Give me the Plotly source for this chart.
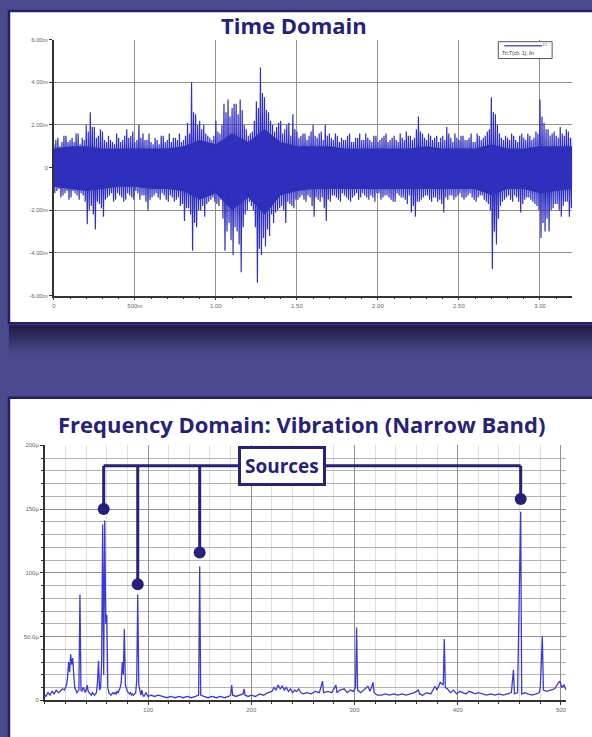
import numpy as np
import plotly.graph_objects as go

# ---------------- data: time domain (envelope peaks) -------------
dt = 0.025  # s between successive readings of each series
upper_peaks = [1.1, 1.4, 1.2, 1.5, 1.3, 1.2, 1.6, 1.4, 2.0, 2.6, 1.9, 1.5, 1.7, 1.2, 1.3, 1.1,
               1.4, 1.3, 1.8, 1.5, 1.2, 2.0, 1.6, 1.3, 1.2, 1.4, 1.1, 1.5, 1.3, 1.2, 1.4, 1.6,
               1.3, 2.1, 4.0, 2.5, 2.2, 2.0, 1.5, 1.3, 2.2, 1.6, 3.0, 3.2, 2.8, 3.0, 3.2, 2.0,
               1.5, 1.7, 3.1, 4.7, 3.3, 2.6, 2.0, 1.9, 2.2, 1.8, 2.1, 2.5, 1.7, 1.5, 1.6, 1.5,
               2.0, 1.4, 1.7, 2.0, 1.6, 1.3, 1.5, 1.4, 1.3, 1.6, 1.2, 1.4, 1.3, 1.6, 1.3, 1.5,
               1.2, 1.4, 1.6, 1.3, 1.5, 1.2, 1.4, 1.7, 1.5, 1.4, 2.4, 1.6, 1.3, 1.5, 1.4, 1.2,
               1.5, 1.9, 1.4, 1.6, 1.3, 1.5, 1.3, 1.6, 1.2, 1.5, 1.4, 1.7, 3.3, 2.5, 1.6, 1.3,
               1.4, 1.6, 1.3, 1.5, 1.4, 1.6, 1.3, 1.7, 3.2, 2.1, 1.8, 1.6, 1.5, 1.9, 1.5, 1.7, 1.4]
lower_peaks = [-1.2, -1.0, -1.3, -1.1, -1.4, -1.2, -1.5, -1.3, -2.65, -1.8, -2.9, -1.7, -2.3, -1.4,
               -1.2, -1.5, -1.3, -1.6, -1.2, -1.4, -1.1, -1.5, -1.3, -2.0, -1.4, -1.2, -1.5, -1.3,
               -1.6, -1.4, -1.5, -1.8, -2.5, -1.9, -3.9, -2.8, -2.0, -2.3, -1.6, -1.4, -1.7, -1.5,
               -3.9, -2.6, -4.1, -3.0, -4.9, -2.2, -1.6, -2.0, -5.4, -4.1, -3.7, -3.2, -2.6, -2.0,
               -1.8, -2.6, -1.7, -1.9, -1.5, -1.3, -1.6, -1.4, -2.3, -1.5, -1.4, -2.5, -1.6, -1.3,
               -1.5, -1.2, -1.4, -1.6, -1.3, -1.5, -1.2, -1.4, -1.3, -1.6, -1.2, -1.4, -1.3, -1.5,
               -1.6, -1.3, -1.4, -1.7, -2.1, -2.3, -1.6, -1.4, -1.3, -1.6, -1.4, -1.5, -2.1, -1.5,
               -1.3, -1.4, -1.2, -1.5, -1.3, -1.4, -1.6, -1.3, -1.5, -1.7, -4.75, -3.6, -1.8, -1.5,
               -1.3, -1.6, -1.4, -2.1, -1.5, -1.4, -1.6, -1.8, -3.3, -3.0, -3.0, -1.9, -1.7, -2.3,
               -1.6, -2.3, -1.5]
# second set of readings taken half-way between the first ones
upper_peaks_b = [1.3, 1.0, 1.5, 1.2, 1.4, 1.6, 1.1, 1.3,
                 1.7, 1.9, 1.4, 1.8, 1.3,
                 1.5, 1.2, 1.6, 1.2, 1.5, 1.4, 1.7, 1.3,
                 1.4, 1.3, 1.6, 1.1, 1.3, 1.5, 1.2, 1.6, 1.4, 1.3, 1.2, 1.5,
                 1.6, 2.6, 2.0, 1.8, 1.6, 1.4, 1.5, 1.7,
                 2.0, 2.6, 2.4, 3.0, 2.5, 2.7, 1.8,
                 1.6, 2.2, 2.8, 3.5, 2.7, 2.2,
                 1.7, 2.1, 1.6, 2.0, 1.5, 1.8, 1.4,
                 1.6, 1.3, 1.7, 1.5, 1.6, 1.3, 1.5, 1.4, 1.6, 1.2,
                 1.3, 1.5, 1.2, 1.4, 1.6, 1.3, 1.4, 1.2, 1.5, 1.3,
                 1.5, 1.2, 1.4, 1.3, 1.6, 1.3, 1.5, 1.3, 1.8, 1.7,
                 1.4, 1.6, 1.3, 1.5, 1.4, 1.3, 1.6, 1.2, 1.4, 1.5,
                 1.3, 1.4, 1.2, 1.6, 1.3, 1.5, 1.8, 2.6, 2.0, 1.4,
                 1.5, 1.3, 1.5, 1.2, 1.6, 1.3, 1.5, 1.4, 1.6, 2.4,
                 1.8, 1.5, 1.7, 1.4, 1.6, 1.8, 1.4, 1.5]
lower_peaks_b = [-1.1, -1.4, -1.2, -1.5, -1.1, -1.3, -1.2, -1.6,
                 -2.0, -2.2, -1.6, -1.9, -1.5,
                 -1.3, -1.6, -1.2, -1.4, -1.5, -1.3, -1.5, -1.2,
                 -1.3, -1.6, -1.5, -1.3, -1.4, -1.2, -1.5, -1.3, -1.6, -1.4, -1.7, -1.9,
                 -2.2, -2.6, -2.0, -1.8, -1.7, -1.5, -1.6, -1.8,
                 -2.4, -3.0, -3.4, -2.8, -3.6, -2.8, -2.0,
                 -1.8, -2.8, -3.8, -3.3, -2.9, -2.2,
                 -2.1, -1.9, -2.0, -1.6, -1.8, -1.5, -1.4,
                 -1.5, -1.3, -1.8, -1.4, -1.6, -1.9, -1.5, -1.3, -1.4, -1.6,
                 -1.3, -1.5, -1.4, -1.2, -1.4, -1.3, -1.5, -1.4, -1.2, -1.5,
                 -1.3, -1.4, -1.6, -1.2, -1.4, -1.5, -1.3, -1.8, -1.6, -1.5,
                 -1.3, -1.5, -1.4, -1.6, -1.7, -1.4, -1.3, -1.5, -1.3, -1.4,
                 -1.4, -1.2, -1.5, -1.4, -1.3, -1.6, -2.0, -3.0, -2.4, -1.6,
                 -1.4, -1.5, -1.3, -1.6, -1.7, -1.4, -1.5, -1.7, -2.0, -2.6,
                 -2.4, -2.0, -1.7, -2.0, -1.8, -1.6, -1.9, -1.4]
# dense dark core band (every 0.1 s)
core_dt = 0.1
core_upper = [0.9, 1.0, 1.0, 0.9, 0.9, 0.9, 0.9, 0.9, 1.0, 1.3, 1.1, 1.6, 1.2, 1.8, 1.2, 1.0, 1.0,
              1.0, 0.9, 0.9, 0.9, 0.9, 0.9, 1.0, 0.9, 0.9, 0.9, 1.1, 0.9, 0.9, 1.0, 1.0, 1.0]
core_lower = [-0.9, -1.0, -1.1, -1.0, -0.9, -0.9, -1.0, -1.0, -1.1, -1.5, -1.2, -2.0, -1.4, -2.2,
              -1.3, -1.1, -1.0, -1.0, -1.0, -1.0, -1.0, -1.0, -1.0, -1.0, -1.0, -1.0, -1.0, -1.3,
              -1.0, -1.0, -1.2, -1.1, -1.0]
time_tickvals = [0, 0.5, 1.0, 1.5, 2.0, 2.5, 3.0]
time_ticktext = ["0", "500m", "1.00", "1.50", "2.00", "2.50", "3.00"]
amp_tickvals = [-6, -4, -2, 0, 2, 4, 6]
amp_ticktext = ["-6.00m", "-4.00m", "-2.00m", "0", "2.00m", "4.00m", "6.00m"]

# ---------------- data: frequency domain (Hz, µ) ---------------------------------
freq = [0, 1, 3, 5, 7, 9, 11, 13, 15, 17, 19, 21, 22, 23, 24, 25, 26, 27, 28, 29, 30, 31, 32, 33,
        34, 35, 36, 37, 38, 39, 40, 41, 42, 43, 44, 45, 46, 47, 48, 49, 50, 51, 52, 53, 54, 55,
        56, 57, 58, 59, 60, 61, 62, 63, 64, 65, 66, 67, 68, 69, 70, 71, 72, 73, 74, 75, 76, 77,
        78, 79, 80, 81, 82, 83, 84, 85, 86, 87, 88, 89, 90, 91, 92, 93, 94, 95, 96, 98, 100, 103,
        106, 110, 114, 118, 122, 126, 130, 134, 138, 142, 146, 149, 150, 151, 154, 158, 162, 166,
        170, 174, 178, 180, 181, 182, 185, 188, 192, 193, 194, 197, 200, 204, 208, 212, 216, 220,
        222, 224, 226, 228, 230, 232, 234, 236, 238, 240, 242, 244, 246, 248, 250, 254, 258, 262,
        266, 269, 270, 274, 278, 282, 283, 286, 290, 293, 296, 299, 301, 302, 303, 306, 310, 313,
        315, 318, 319, 322, 326, 330, 334, 338, 342, 346, 350, 354, 358, 362, 363, 366, 370, 374,
        378, 380, 383, 386, 387, 388, 390, 393, 396, 399, 402, 405, 408, 411, 414, 417, 420, 424,
        428, 432, 436, 440, 444, 448, 452, 454, 455, 458, 461, 462, 465, 468, 472, 476, 479, 480,
        482, 483, 486, 490, 494, 497, 499, 501, 503, 505]
vib = [4, 3, 6, 4, 7, 5, 8, 6, 7, 9, 8, 12, 18, 30, 22, 36, 28, 33, 20, 10, 8, 6, 7, 8,
       83, 8, 7, 10, 9, 6, 8, 12, 7, 6, 5, 4, 6, 5, 4, 5, 6, 14, 31, 8, 10, 30,
       138, 20, 141, 60, 67, 10, 6, 5, 4, 5, 6, 5, 6, 5, 7, 6, 8, 10, 14, 30, 20, 56,
       12, 9, 7, 6, 5, 6, 4, 5, 4, 5, 6, 15, 83, 12, 6, 4, 8, 4, 3, 6, 3, 4,
       3, 4, 3, 2, 3, 2, 3, 2, 3, 2, 3, 4, 105, 4, 3, 2, 3, 2,
       3, 2, 3, 4, 12, 4, 3, 4, 5, 9, 4, 3, 4, 3, 5, 4, 6, 7,
       10, 8, 12, 9, 11, 8, 10, 7, 9, 6, 8, 7, 9, 6, 5, 6, 5, 7,
       6, 15, 6, 7, 6, 12, 6, 8, 9, 6, 8, 7, 10, 57, 8, 6, 9, 11,
       7, 14, 6, 4, 4, 5, 4, 5, 4, 5, 4, 5, 6, 8, 5, 4, 6, 5,
       11, 8, 14, 12, 48, 10, 9, 6, 8, 5, 7, 6, 5, 7, 6, 5, 6, 5,
       4, 5, 4, 5, 4, 5, 6, 24, 5, 6, 148, 5, 6, 5, 4, 5, 6, 10,
       50, 8, 7, 8, 9, 13, 15, 10, 12, 8]
freq_tickvals = [100, 200, 300, 400, 500]
freq_ticktext = ["100", "200", "300", "400", "500"]
vib_tickvals = [0, 50, 100, 150, 200]
vib_ticktext = ["0", "50.0µ", "100µ", "150µ", "200µ"]

# "Sources" callout
source_freqs = [57, 90, 150, 461]
source_dot_levels = [150, 91, 116, 158]
bracket_level = 184
label_freq = 230

# ---------------- geometry helpers ---------------------------------------------------
W, H = 592, 737
def px(x):
    return x / W
def py(y):
    return 1 - y / H

NAVY = "#26227a"
PURPLE = "#4b4a8e"
TRACE = "#3030c0"

# build time-domain trace: readings a (at i*dt) and b (at i*dt + dt/2), each up then down
n = len(upper_peaks)
t0 = np.arange(n) * dt
tz = np.empty(4 * n)
yz = np.empty(4 * n)
tz[0::4] = t0
tz[1::4] = t0 + dt / 4
tz[2::4] = t0 + dt / 2
tz[3::4] = t0 + 3 * dt / 4
yz[0::4] = upper_peaks
yz[1::4] = lower_peaks
yz[2::4] = upper_peaks_b
yz[3::4] = lower_peaks_b

tc = np.arange(len(core_upper)) * core_dt
core_x = list(tc) + list(tc[::-1])
core_y = list(core_upper) + list(core_lower[::-1])

fig = go.Figure()
fig.add_trace(go.Scatter(x=core_x, y=core_y, fill="toself", fillcolor="#2b2bab",
                         line=dict(width=0), mode="lines", hoverinfo="skip",
                         xaxis="x", yaxis="y", showlegend=False))
fig.add_trace(go.Scatter(x=tz, y=yz, mode="lines", line=dict(color=TRACE, width=1.2),
                         xaxis="x", yaxis="y", showlegend=False))
fig.add_trace(go.Scatter(x=freq, y=vib, mode="lines", line=dict(color="#3a3ad8", width=1.3),
                         xaxis="x2", yaxis="y2", showlegend=False))

tick_font = dict(family="Liberation Sans", size=6, color="#666")
common_axis = dict(showline=True, linecolor="#333", linewidth=1.5, ticks="outside",
                   ticklen=3, tickcolor="#333", tickfont=tick_font, zeroline=False,
                   gridcolor="#8f8f8f", gridwidth=1, fixedrange=True)

fig.update_layout(
    width=W, height=H, margin=dict(l=0, r=0, t=0, b=0),
    paper_bgcolor=PURPLE, plot_bgcolor="#f2f2f2",
    xaxis=dict(domain=[px(52), px(572)], anchor="y", range=[0, 3.198],
               tickvals=time_tickvals, ticktext=time_ticktext,
               minor=dict(dtick=0.1, ticks="outside", ticklen=2, tickcolor="#333", showgrid=False),
               **common_axis),
    yaxis=dict(domain=[py(295), py(37)], anchor="x", range=[-6, 6],
               tickvals=amp_tickvals, ticktext=amp_ticktext, **common_axis),
    xaxis2=dict(domain=[px(43), px(566)], anchor="y2", range=[0, 505],
                tickvals=freq_tickvals, ticktext=freq_ticktext,
                minor=dict(dtick=20, ticks="outside", ticklen=2, tickcolor="#333",
                           showgrid=True, gridcolor="#e0e0e0"),
                **common_axis),
    yaxis2=dict(domain=[py(703), py(446)], anchor="x2", range=[0, 200],
                tickvals=vib_tickvals, ticktext=vib_ticktext,
                minor=dict(dtick=10, ticks="outside", ticklen=2, tickcolor="#333",
                           showgrid=True, gridcolor="#b4b4b4"),
                **common_axis),
)

shapes = []
# cards
shapes.append(dict(type="rect", xref="paper", yref="paper", x0=px(7), x1=px(600),
                   y0=py(323), y1=py(8), fillcolor="white", line=dict(color="#231e70", width=2.5),
                   layer="below"))
# shadow under top card
shadow_cols = ["#1f1d45", "#24224f", "#292756", "#2e2c5e", "#333166", "#38366e", "#3d3b76",
               "#42407e", "#464585", "#4a498b"]
for k, c in enumerate(shadow_cols):
    shapes.append(dict(type="rect", xref="paper", yref="paper", x0=px(7), x1=px(600),
                       y0=py(327 + 3 * (k + 1)), y1=py(325 + 3 * k), fillcolor=c,
                       line=dict(width=0), layer="below"))
shapes.append(dict(type="rect", xref="paper", yref="paper", x0=px(7), x1=px(600),
                   y0=py(745), y1=py(398), fillcolor="white", line=dict(color="#231e70", width=2.5),
                   layer="below"))
# legend box in the time plot
shapes.append(dict(type="rect", xref="paper", yref="paper", x0=px(498), x1=px(552),
                   y0=py(56), y1=py(39), fillcolor="white", line=dict(color="#555", width=1)))
shapes.append(dict(type="line", xref="paper", yref="paper", x0=px(504), x1=px(542),
                   y0=py(43), y1=py(43), line=dict(color="#5a5ae0", width=1.5)))
# Sources bracket (data coords of bottom plot)
shapes.append(dict(type="line", xref="x2", yref="y2", x0=source_freqs[0], x1=source_freqs[-1],
                   y0=bracket_level, y1=bracket_level, line=dict(color=NAVY, width=3)))
for f, lvl in zip(source_freqs, source_dot_levels):
    shapes.append(dict(type="line", xref="x2", yref="y2", x0=f, x1=f, y0=bracket_level, y1=lvl,
                       line=dict(color=NAVY, width=3)))
fig.update_layout(shapes=shapes)

fig.add_trace(go.Scatter(x=source_freqs, y=source_dot_levels, mode="markers",
                         marker=dict(size=12, color=NAVY), xaxis="x2", yaxis="y2",
                         showlegend=False, hoverinfo="skip"))

title_font = dict(family="Open Sans", size=22, color=NAVY)
annotations = [
    dict(text="<b>Time Domain</b>", xref="paper", yref="paper", x=px(293), y=py(22),
         showarrow=False, font=title_font, xanchor="center", yanchor="middle"),
    dict(text="<b>Frequency Domain: Vibration (Narrow Band)</b>", xref="paper", yref="paper",
         x=px(301), y=py(424), showarrow=False, font=title_font, xanchor="center",
         yanchor="middle"),
    dict(text="Tri:T(ch. 1); lin", xref="paper", yref="paper", x=px(500), y=py(50),
         showarrow=False, font=dict(family="Liberation Sans", size=5, color="#333"),
         xanchor="left", yanchor="middle"),
    dict(text="X1", xref="paper", yref="paper", x=px(550), y=py(42),
         showarrow=False, font=dict(family="Liberation Sans", size=4, color="#5a5ae0"),
         xanchor="right", yanchor="middle"),
    dict(text="<b>Sources</b>", xref="x2", yref="y2", x=label_freq, y=bracket_level,
         showarrow=False, font=dict(family="Open Sans", size=19, color=NAVY),
         bgcolor="white", bordercolor=NAVY, borderwidth=3, borderpad=4,
         xanchor="center", yanchor="middle"),
]
fig.update_layout(annotations=annotations)

fig.write_html("out.html")
